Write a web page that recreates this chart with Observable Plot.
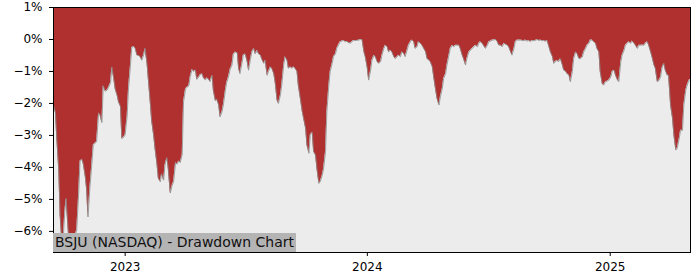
<!DOCTYPE html>
<html><head><meta charset="utf-8">
<script src="https://cdn.jsdelivr.net/npm/d3@7"></script>
<script src="https://cdn.jsdelivr.net/npm/@observablehq/plot@0.6"></script>
<style>
html,body{margin:0;padding:0;background:#fff;}
#wrap{position:relative;width:700px;height:280px;}
#label{position:absolute;left:53px;top:233px;width:243px;height:19px;background:#b4b4b4;font:14px "DejaVu Sans";color:#111;line-height:19px;padding-left:2px;box-sizing:border-box;white-space:nowrap;}
</style></head>
<body><div id="wrap"></div>
<script>
const title = "BSJU (NASDAQ) - Drawdown Chart";
const dates = [
"2022-09-15","2022-09-18","2022-09-20","2022-09-23","2022-09-25","2022-09-28","2022-09-30","2022-10-02","2022-10-04","2022-10-06",
"2022-10-09","2022-10-12","2022-10-15","2022-10-18","2022-10-20","2022-10-23","2022-10-25","2022-10-28","2022-10-30","2022-11-02",
"2022-11-04","2022-11-06","2022-11-09","2022-11-11","2022-11-14","2022-11-19","2022-11-22","2022-11-24","2022-11-27","2022-11-29",
"2022-12-02","2022-12-05","2022-12-07","2022-12-10","2022-12-12","2022-12-15","2022-12-17","2022-12-20","2022-12-22","2022-12-25",
"2022-12-27","2022-12-30","2023-01-01","2023-01-04","2023-01-06","2023-01-09","2023-01-11","2023-01-14","2023-01-16","2023-01-19",
"2023-01-21","2023-01-24","2023-01-26","2023-01-29","2023-01-31","2023-02-03","2023-02-05","2023-02-08","2023-02-10","2023-02-13",
"2023-02-15","2023-02-18","2023-02-20","2023-02-23","2023-02-25","2023-02-28","2023-03-02","2023-03-05","2023-03-07","2023-03-10",
"2023-03-13","2023-03-15","2023-03-18","2023-03-20","2023-03-23","2023-03-25","2023-03-28","2023-03-30","2023-04-02","2023-04-04",
"2023-04-07","2023-04-09","2023-04-12","2023-04-14","2023-04-17","2023-04-19","2023-04-22","2023-04-24","2023-04-27","2023-04-29",
"2023-05-02","2023-05-04","2023-05-07","2023-05-09","2023-05-12","2023-05-14","2023-05-17","2023-05-19","2023-05-22","2023-05-24",
"2023-05-27","2023-05-29","2023-06-01","2023-06-03","2023-06-06","2023-06-08","2023-06-11","2023-06-13","2023-06-16","2023-06-19",
"2023-06-21","2023-06-23","2023-06-26","2023-06-28","2023-07-01","2023-07-04","2023-07-06","2023-07-09","2023-07-11","2023-07-14",
"2023-07-16","2023-07-19","2023-07-21","2023-07-24","2023-07-26","2023-07-29","2023-07-31","2023-08-03","2023-08-05","2023-08-08",
"2023-08-10","2023-08-13","2023-08-15","2023-08-18","2023-08-20","2023-08-23","2023-08-25","2023-08-28","2023-08-30","2023-09-02",
"2023-09-04","2023-09-07","2023-09-09","2023-09-12","2023-09-14","2023-09-17","2023-09-19","2023-09-22","2023-09-25","2023-09-27",
"2023-09-30","2023-10-02","2023-10-05","2023-10-07","2023-10-10","2023-10-12","2023-10-15","2023-10-17","2023-10-20","2023-10-22",
"2023-10-25","2023-10-27","2023-10-30","2023-11-01","2023-11-04","2023-11-06","2023-11-09","2023-11-11","2023-11-14","2023-11-16",
"2023-11-19","2023-11-21","2023-11-26","2023-11-29","2023-12-01","2023-12-04","2023-12-06","2023-12-09","2023-12-11","2023-12-17",
"2023-12-22","2023-12-24","2023-12-27","2023-12-29","2024-01-01","2024-01-03","2024-01-06","2024-01-08","2024-01-11","2024-01-13",
"2024-01-16","2024-01-18","2024-01-21","2024-01-23","2024-01-26","2024-01-28","2024-01-31","2024-02-02","2024-02-05","2024-02-07",
"2024-02-10","2024-02-12","2024-02-15","2024-02-17","2024-02-20","2024-02-22","2024-02-25","2024-02-27","2024-03-01","2024-03-03",
"2024-03-06","2024-03-08","2024-03-11","2024-03-13","2024-03-16","2024-03-18","2024-03-21","2024-03-24","2024-03-26","2024-03-29",
"2024-03-31","2024-04-03","2024-04-05","2024-04-08","2024-04-10","2024-04-13","2024-04-15","2024-04-18","2024-04-20","2024-04-23",
"2024-04-25","2024-04-28","2024-04-30","2024-05-03","2024-05-05","2024-05-08","2024-05-10","2024-05-13","2024-05-18","2024-05-20",
"2024-05-23","2024-05-25","2024-05-28","2024-05-30","2024-06-02","2024-06-07","2024-06-12","2024-06-15","2024-06-17","2024-06-19",
"2024-06-22","2024-06-24","2024-06-27","2024-06-30","2024-07-02","2024-07-05","2024-07-07","2024-07-09","2024-07-12","2024-07-15",
"2024-07-17","2024-07-20","2024-07-22","2024-07-25","2024-07-27","2024-07-30","2024-08-01","2024-08-04","2024-08-06","2024-08-09",
"2024-08-11","2024-08-14","2024-08-19","2024-08-24","2024-08-26","2024-08-29","2024-08-31","2024-09-03","2024-09-05","2024-09-08",
"2024-09-10","2024-09-13","2024-09-15","2024-09-18","2024-09-20","2024-09-23","2024-09-25","2024-09-28","2024-09-30","2024-10-03",
"2024-10-06","2024-10-08","2024-10-10","2024-10-13","2024-10-15","2024-10-18","2024-10-21","2024-10-23","2024-10-26","2024-10-28",
"2024-10-31","2024-11-02","2024-11-05","2024-11-07","2024-11-10","2024-11-12","2024-11-15","2024-11-17","2024-11-20","2024-11-22",
"2024-11-25","2024-11-27","2024-11-30","2024-12-02","2024-12-05","2024-12-07","2024-12-10","2024-12-12","2024-12-15","2024-12-17",
"2024-12-20","2024-12-22","2024-12-25","2024-12-28","2024-12-30","2025-01-02","2025-01-04","2025-01-07","2025-01-09","2025-01-12",
"2025-01-14","2025-01-17","2025-01-19","2025-01-22","2025-01-24","2025-01-27","2025-01-29","2025-02-01","2025-02-03","2025-02-06",
"2025-02-08","2025-02-11","2025-02-13","2025-02-16","2025-02-18","2025-02-21","2025-02-23","2025-02-26","2025-02-28","2025-03-03",
"2025-03-05","2025-03-08","2025-03-10","2025-03-13","2025-03-15","2025-03-18","2025-03-20","2025-03-23","2025-03-25","2025-03-28",
"2025-03-30","2025-04-02","2025-04-05","2025-04-07","2025-04-10","2025-04-12","2025-04-15","2025-04-17","2025-04-20","2025-04-22",
"2025-04-25","2025-04-27","2025-04-30","2025-05-02"
];
const drawdown = [
-2.05,-2.3,-3.1,-4.1,-5.5,-6.45,-6.1,-5.4,-4.97,-5.6,
-6.55,-6.5,-6.3,-6.1,-5.96,-4.8,-3.8,-3.75,-3.9,-4.3,
-4.7,-5.55,-4.6,-4.1,-3.3,-3.2,-2.3,-2.35,-2.6,-1.45,
-1.62,-1.58,-1.5,-1.35,-0.86,-1.25,-1.55,-1.75,-1.95,-2.1,
-3.1,-3.05,-2.98,-2.4,-1.55,-0.8,-0.25,-0.22,-0.27,-0.5,
-0.5,-0.55,-0.65,-0.48,-0.28,-0.75,-1.25,-2.0,-2.55,-3.0,
-3.4,-3.9,-4.34,-4.45,-4.2,-4.4,-3.93,-3.7,-4.05,-4.8,
-4.55,-4.45,-3.85,-3.9,-3.8,-3.85,-3.6,-1.95,-1.55,-1.5,
-1.45,-1.17,-0.93,-1.0,-0.96,-1.25,-1.17,-1.1,-1.07,-1.2,
-1.27,-1.2,-1.25,-1.32,-1.12,-1.6,-1.92,-1.87,-2.05,-2.42,
-2.26,-2.05,-1.6,-1.35,-1.15,-0.95,-0.8,-0.47,-0.39,-0.42,
-0.9,-1.07,-0.75,-0.49,-0.45,-0.7,-0.96,-0.6,-0.39,-0.28,
-0.45,-0.34,-0.45,-0.49,-0.62,-0.75,-0.65,-1.12,-1.0,-0.86,
-0.9,-1.07,-1.32,-1.9,-2.0,-1.74,-1.43,-0.8,-0.54,-0.65,
-0.9,-0.86,-0.9,-0.86,-0.9,-1.0,-1.43,-1.84,-2.26,-2.47,
-2.78,-3.3,-3.56,-2.99,-2.9,-3.5,-3.62,-4.03,-4.5,-4.45,
-4.25,-4.05,-3.5,-2.26,-1.43,-1.0,-0.75,-0.54,-0.45,-0.28,
-0.15,-0.07,-0.03,-0.07,-0.06,-0.1,-0.12,-0.07,-0.03,-0.03,
0,0,-0.4,-0.55,-0.9,-1.27,-0.96,-0.65,-0.49,-0.54,
-0.7,-0.75,-0.7,-0.49,-0.28,-0.18,-0.23,-0.39,-0.34,-0.39,
-0.54,-0.6,-0.54,-0.49,-0.54,-0.39,-0.44,-0.54,-0.33,-0.18,
-0.07,-0.02,-0.07,-0.28,-0.23,-0.07,-0.12,-0.2,-0.28,-0.39,
-0.6,-0.65,-0.7,-0.86,-1.17,-1.58,-1.84,-2.05,-1.8,-1.53,
-1.22,-1.07,-0.8,-0.49,-0.28,-0.18,-0.23,-0.18,-0.18,-0.28,
-0.49,-0.6,-0.8,-0.6,-0.39,-0.28,-0.18,-0.23,-0.12,-0.07,
-0.12,-0.18,-0.28,-0.18,-0.07,-0.05,-0.02,-0.02,0,-0.07,
-0.18,-0.18,-0.23,-0.12,-0.15,-0.18,-0.23,-0.39,-0.49,-0.28,
-0.07,-0.02,-0.02,-0.04,-0.02,-0.05,-0.03,-0.07,-0.03,-0.04,
-0.03,0,-0.03,-0.02,-0.04,-0.03,-0.06,-0.03,-0.18,-0.39,
-0.54,-0.75,-0.7,-0.65,-0.7,-0.6,-0.8,-0.96,-1.0,-1.07,
-1.12,-1.32,-1.0,-0.6,-0.39,-0.44,-0.6,-0.6,-0.55,-0.39,
-0.28,-0.18,-0.12,-0.02,-0.02,-0.07,-0.12,-0.28,-0.39,-1.01,
-1.38,-1.43,-1.32,-1.3,-1.27,-1.17,-1.0,-0.96,-1.12,-1.27,
-1.32,-0.7,-0.49,-0.34,-0.18,-0.12,-0.07,-0.12,-0.05,-0.12,
-0.18,-0.28,-0.18,-0.18,-0.17,-0.18,-0.12,-0.07,-0.18,-0.39,
-0.54,-0.8,-0.9,-1.32,-1.3,-1.17,-0.9,-0.75,-0.96,-1.12,
-1.12,-2.05,-2.47,-2.99,-3.46,-3.4,-3.1,-2.84,-2.84,-2.05,
-1.58,-1.43,-1.27,-1.25
];
const yTicks = [1, 0, -1, -2, -3, -4, -5, -6];
const xTicks = ["2023-01-01", "2024-01-01", "2025-01-01"];
const yTop = 1, yBottom = -6.66;

const data = dates.map((d, i) => ({date: new Date(d), v: drawdown[i]}));

const chart = Plot.plot({
  width: 700, height: 280,
  marginLeft: 53, marginRight: 10, marginTop: 7, marginBottom: 28,
  style: {fontFamily: "DejaVu Sans", fontSize: "12px", color: "#000", background: "#fff"},
  x: {type: "utc", domain: [data[0].date, data[data.length - 1].date]},
  y: {domain: [yBottom, yTop]},
  marks: [
    Plot.frame({fill: "#ececec", stroke: null}),
    Plot.areaY(data, {x: "date", y1: "v", y2: yTop, fill: "#b03030"}),
    Plot.line(data, {x: "date", y: "v", stroke: "#8c8c8c", strokeWidth: 0.8}),
    Plot.frame({stroke: "#000", strokeWidth: 1}),
    Plot.axisY({ticks: yTicks, tickFormat: d => (d < 0 ? "\u2212" : "") + Math.abs(d) + "%", tickSize: 4, tickPadding: 7, label: null, fontSize: 12}),
    Plot.axisX({ticks: xTicks.map(d => new Date(d)), tickFormat: d3.utcFormat("%Y"), tickSize: 4, tickPadding: 6, label: null, fontSize: 12})
  ]
});
const wrap = document.getElementById("wrap");
wrap.appendChild(chart);
const lab = document.createElement("div");
lab.id = "label";
lab.textContent = title;
wrap.appendChild(lab);
</script>
</body></html>
